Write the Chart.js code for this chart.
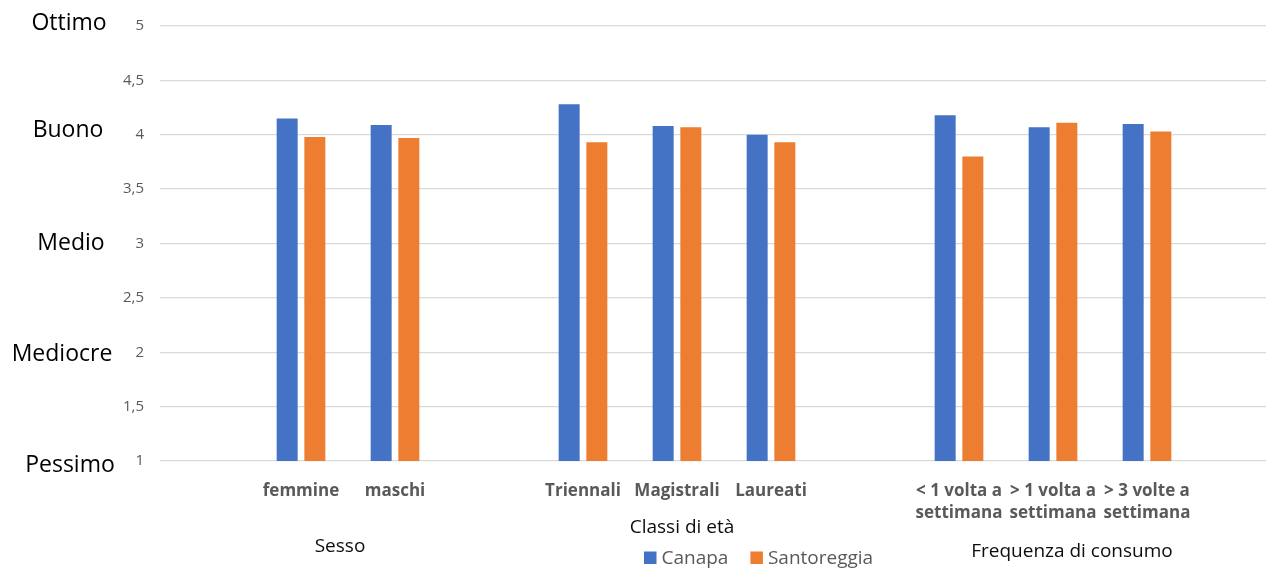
<!DOCTYPE html>
<html lang="it">
<head>
<meta charset="utf-8">
<title>Valutazione Canapa e Santoreggia</title>
<script src="https://cdn.jsdelivr.net/npm/chart.js@4.4.1/dist/chart.umd.min.js"></script>
<style>
  html, body { margin: 0; padding: 0; background: #ffffff; overflow: hidden; }
  #wrap { position: relative; width: 1300px; height: 571px; }
</style>
</head>
<body>
<div id="wrap"><canvas id="chart" width="1300" height="571"></canvas></div>
<script>
// Categories along the x axis (empty strings leave a spacer slot between groups)
const categories = [
  '', 'femmine', 'maschi', '',
  'Triennali', 'Magistrali', 'Laureati', '',
  ['< 1 volta a', 'settimana'], ['> 1 volta a', 'settimana'], ['> 3 volte a', 'settimana'], ''
];

// Mean scores per category
const canapa      = [null, 4.15, 4.09, null, 4.28, 4.08, 4.00, null, 4.18, 4.07, 4.10, null];
const santoreggia = [null, 3.98, 3.97, null, 3.93, 4.07, 3.93, null, 3.80, 4.11, 4.03, null];

// Series names
const seriesNames = ['Canapa', 'Santoreggia'];

// Category groups shown under the tick labels
const groupNames   = ['Sesso', 'Classi di età', 'Frequenza di consumo'];
const groupMembers = [[1, 2], [4, 6], [8, 10]];

// Verbal scale next to the numeric axis
const ratingLabels = ['Pessimo', 'Mediocre', 'Medio', 'Buono', 'Ottimo'];
const ratingValues = [1, 2, 3, 4, 5];

// Appearance
const COLORS = ['#4472C4', '#ED7D31'];
const FONT = "'Open Sans', 'Liberation Sans', sans-serif";
const groupLabelStyle = [
  { dx: -8, y: 547 },
  { dx: 5,  y: 528 },
  { dx: 19, y: 552 }
];
// text-box placement of the verbal scale labels
const ratingLabelStyle = [
  { cx: 70, dy: 4 },
  { cx: 62, dy: 2 },
  { cx: 71, dy: 0 },
  { cx: 68, dy: -4 },
  { cx: 69, dy: -3 }
];

const annotations = {
  id: 'annotations',
  afterDraw(chart) {
    const { ctx, scales } = chart;
    const x = scales.x, y = scales.y;
    ctx.save();

    // verbal rating scale
    ctx.fillStyle = '#000000';
    ctx.font = `23px ${FONT}`;
    ctx.textAlign = 'center';
    ctx.textBaseline = 'middle';
    ratingLabels.forEach((lab, i) => {
      const s = ratingLabelStyle[i];
      ctx.fillText(lab, s.cx, y.getPixelForValue(ratingValues[i]) + s.dy);
    });

    // group titles
    ctx.font = `19px ${FONT}`;
    ctx.fillStyle = '#0d0d0d';
    groupNames.forEach((name, i) => {
      const [a, b] = groupMembers[i];
      const cx = (x.getPixelForValue(a) + x.getPixelForValue(b)) / 2 + groupLabelStyle[i].dx;
      ctx.fillText(name, cx, groupLabelStyle[i].y);
    });

    // legend
    ctx.textAlign = 'left';
    let lx = 644;
    const ly = 557.5;
    seriesNames.forEach((name, i) => {
      ctx.fillStyle = COLORS[i];
      ctx.fillRect(lx, ly - 6, 12.5, 12.5);
      ctx.fillStyle = '#595959';
      ctx.fillText(name, lx + 17.5, ly + 1);
      lx += 17.5 + ctx.measureText(name).width + 22;
    });

    ctx.restore();
  }
};

new Chart(document.getElementById('chart'), {
  type: 'bar',
  data: {
    labels: categories,
    datasets: [
      { label: seriesNames[0], data: canapa, backgroundColor: COLORS[0] },
      { label: seriesNames[1], data: santoreggia, backgroundColor: COLORS[1] }
    ]
  },
  options: {
    responsive: false,
    animation: false,
    devicePixelRatio: 1,
    categoryPercentage: 0.589,
    barPercentage: 0.758,
    layout: { padding: { top: 26, right: 12, bottom: 0, left: 0 } },
    plugins: {
      legend: { display: false },
      tooltip: { enabled: false }
    },
    scales: {
      x: {
        grid: { display: false },
        border: { display: false },
        ticks: {
          autoSkip: false,
          maxRotation: 0,
          minRotation: 0,
          padding: 11,
          color: '#595959',
          font: { family: FONT, size: 17, weight: 'bold', lineHeight: 1.3 }
        },
        afterFit(scale) { scale.height = 110; }
      },
      y: {
        min: 1,
        max: 5,
        border: { display: false },
        grid: { color: '#d9d9d9', lineWidth: 1.3, drawTicks: false },
        ticks: {
          stepSize: 0.5,
          padding: 16,
          color: '#595959',
          font: { family: FONT, size: 15 },
          callback: v => String(v).replace('.', ',')
        },
        afterFit(scale) { scale.width = 160; }
      }
    }
  },
  plugins: [annotations]
});
</script>
</body>
</html>
